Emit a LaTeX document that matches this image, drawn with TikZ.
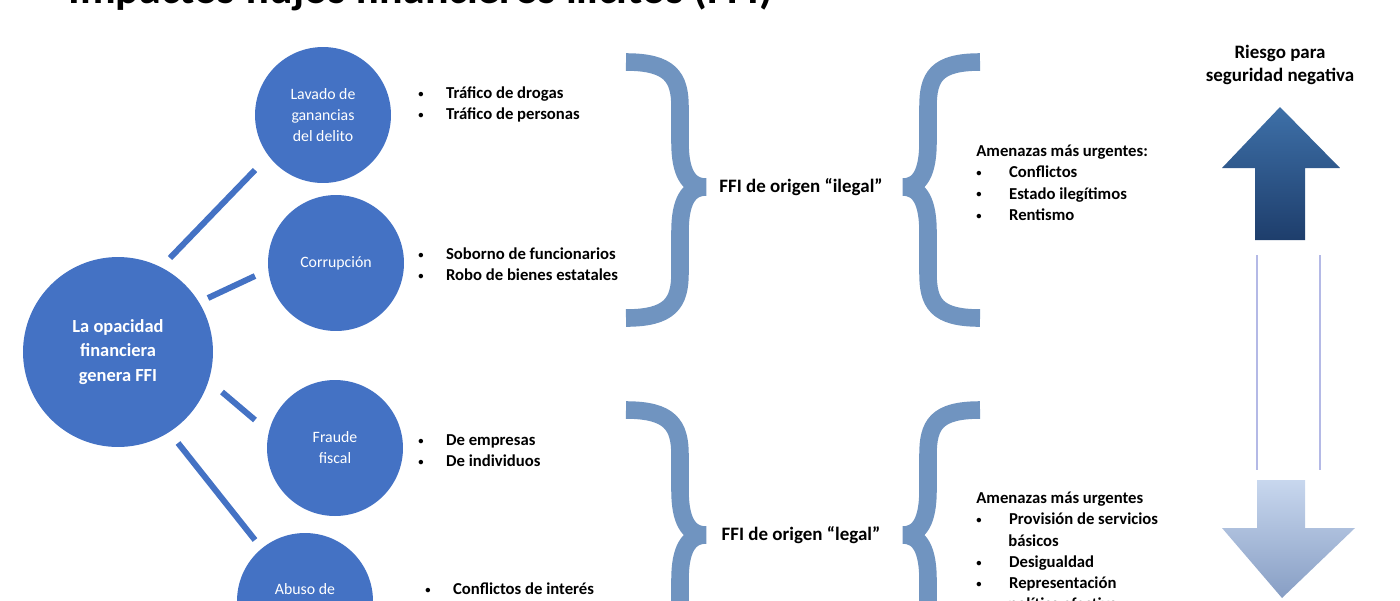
\documentclass[tikz,border=0pt]{standalone}
\usepackage{fontspec}
\setmainfont{Carlito}
\usetikzlibrary{positioning}
\definecolor{cblue}{RGB}{68,114,196}
\definecolor{brc}{RGB}{112,148,192}
\newcommand{\bul}{{\fontsize{6}{6}\selectfont\raisebox{0.6pt}{\textbullet}}}
\begin{document}
\begin{tikzpicture}[x=0.02cm,y=-0.02cm,
  circ/.style={circle,fill=cblue,text=white,align=center,inner sep=0pt,font=\fontsize{9}{12}\selectfont},
  conn/.style={cblue,line width=3.4pt},
  brace/.style={brc,line width=10pt,line join=miter},
  lst/.style={anchor=north west,align=left,font=\bfseries\fontsize{9.5}{12}\selectfont,inner sep=0pt},
  lbl/.style={font=\bfseries\fontsize{10.8}{13}\selectfont}]
\useasboundingbox (0,0) rectangle (1400,600);
\clip (0,0) rectangle (1400,600);
\node[anchor=base west,font=\bfseries\fontsize{25}{30}\selectfont,inner sep=0pt] (title) at (68,3) {Impactos flujos financieros ilícitos (FFI)};
\node[circ,minimum size=3.8cm,font=\bfseries\fontsize{10.5}{14}\selectfont] (main) at (118,352) {La opacidad\\financiera\\genera FFI};
\node[circ,minimum size=2.72cm] (lav) at (323,115) {Lavado de\\ganancias\\del delito};
\node[circ,minimum size=2.72cm] (cor) at (336,263) {Corrupción};
\node[circ,minimum size=2.72cm] (fra) at (335,448) {Fraude\\fiscal};
\node[circ,minimum size=2.72cm] (abu) at (305,601) {Abuso de\\poder};
\coordinate (l1a) at (170,258); \coordinate (l1b) at (255,170);
\coordinate (l2a) at (208,298); \coordinate (l2b) at (255,276);
\coordinate (l3a) at (222,392); \coordinate (l3b) at (255,420);
\coordinate (l4a) at (178,443); \coordinate (l4b) at (255,540);
\draw[conn] (l1a) -- (l1b); \draw[conn] (l2a) -- (l2b);
\draw[conn] (l3a) -- (l3b); \draw[conn] (l4a) -- (l4b);
\node[lst] (t1) at (418,86) {\bul\hspace{4.5mm}Tráfico de drogas\\\bul\hspace{4.5mm}Tráfico de personas};
\node[lst] (t2) at (418,247) {\bul\hspace{4.5mm}Soborno de funcionarios\\\bul\hspace{4.5mm}Robo de bienes estatales};
\node[lst] (t3) at (418,434) {\bul\hspace{4.5mm}De empresas\\\bul\hspace{4.5mm}De individuos};
\node[lst] (t4) at (425,582) {\bul\hspace{4.5mm}Conflictos de interés};
% braces
\foreach \yt/\ym/\yb in {62/187/318, 410/535/666}{
  \draw[brace] (626,\yt) .. controls (670,\yt) and (680,\yt+15) .. (680,\yt+45) -- (680,\ym-45) .. controls (680,\ym-15) and (688,\ym) .. (706,\ym) .. controls (688,\ym) and (680,\ym+15) .. (680,\ym+45) -- (680,\yb-45) .. controls (680,\yb-15) and (670,\yb) .. (626,\yb);
  \draw[brace] (980,\yt) .. controls (936,\yt) and (928,\yt+15) .. (928,\yt+45) -- (928,\ym-45) .. controls (928,\ym-15) and (920,\ym) .. (903,\ym) .. controls (920,\ym) and (928,\ym+15) .. (928,\ym+45) -- (928,\yb-45) .. controls (928,\yb-15) and (936,\yb) .. (980,\yb);
}
\node[lbl] (ile) at (801,187) {FFI de origen “ilegal”};
\node[lbl] (leg) at (801,535) {FFI de origen “legal”};
\node[lst] (a1) at (976,145) {Amenazas más urgentes:\\\bul\hspace{5.5mm}Conflictos\\\bul\hspace{5.5mm}Estado ilegítimos\\\bul\hspace{5.5mm}Rentismo};
\node[lst] (a2) at (976,492) {Amenazas más urgentes\\\bul\hspace{5.5mm}Provisión de servicios\\\hspace*{6.4mm}básicos\\\bul\hspace{5.5mm}Desigualdad\\\bul\hspace{5.5mm}Representación\\\hspace*{6.4mm}política efectiva};
\node[lbl,align=center] (risk) at (1280,65) {Riesgo para\\seguridad negativa};
\shade[top color={rgb,255:red,62;green,112;blue,168},bottom color={rgb,255:red,30;green,62;blue,108}]
  (1280,107) -- (1340,168) -- (1305,168) -- (1305,240) -- (1255,240) -- (1255,168) -- (1222,168) -- cycle;
\shade[top color={rgb,255:red,200;green,215;blue,238},bottom color={rgb,255:red,135;green,158;blue,196}]
  (1257,480) -- (1305,480) -- (1305,528) -- (1355,528) -- (1282,598) -- (1222,528) -- (1257,528) -- cycle;
\draw[color={rgb,255:red,180;green,185;blue,230},line width=0.8pt] (1257,255) -- (1257,470) (1320,255) -- (1320,470);
\end{tikzpicture}
\end{document}
